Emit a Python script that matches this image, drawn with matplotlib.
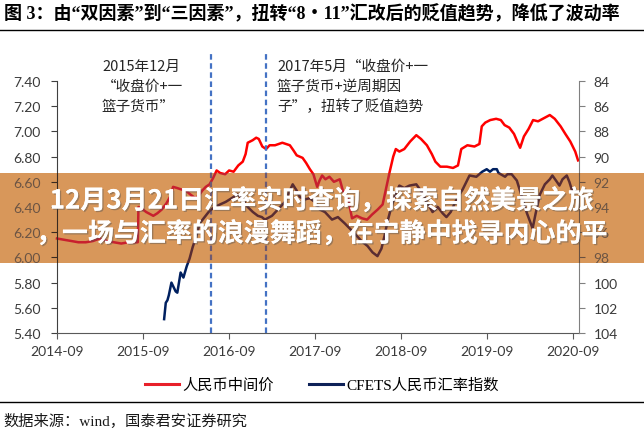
import numpy as np
import matplotlib.pyplot as plt
import matplotlib.dates as mdates
import matplotlib.patheffects as pe
from matplotlib.patches import Rectangle
from matplotlib.lines import Line2D
from matplotlib.font_manager import FontProperties
from matplotlib.transforms import Bbox, TransformedBbox

CJK = 'Noto Sans CJK SC'
SERIF_CJK = ['Liberation Serif', CJK]

# ---- data ----
cny_dates = ['2014-09-01', '2014-10-01', '2014-11-01', '2014-12-01', '2015-01-01', '2015-02-01',
             '2015-03-01', '2015-04-01', '2015-05-01', '2015-06-01', '2015-07-01', '2015-08-10',
             '2015-08-13', '2015-08-25', '2015-09-15', '2015-10-15', '2015-11-01', '2015-11-20',
             '2015-12-10', '2015-12-25', '2016-01-07', '2016-01-25', '2016-02-10', '2016-03-01',
             '2016-03-20', '2016-04-10', '2016-04-25', '2016-05-10', '2016-05-25', '2016-06-10',
             '2016-06-25', '2016-07-10', '2016-07-25', '2016-08-15', '2016-09-01', '2016-09-20',
             '2016-10-10', '2016-10-29', '2016-11-10', '2016-11-19', '2016-12-10', '2016-12-25',
             '2017-01-05', '2017-01-20', '2017-02-05', '2017-02-20', '2017-03-15', '2017-04-15',
             '2017-05-17', '2017-06-01', '2017-06-15', '2017-07-10', '2017-07-25', '2017-08-10',
             '2017-08-25', '2017-09-10', '2017-09-20', '2017-10-01', '2017-10-15', '2017-11-01',
             '2017-11-20', '2017-12-15', '2017-12-28', '2018-01-20', '2018-02-05', '2018-02-25',
             '2018-03-20', '2018-04-10', '2018-05-01', '2018-05-25', '2018-06-15', '2018-06-30',
             '2018-07-15', '2018-07-30', '2018-08-10', '2018-08-25', '2018-09-15', '2018-10-10',
             '2018-11-05', '2018-11-25', '2018-12-20', '2019-01-10', '2019-01-25', '2019-02-15',
             '2019-03-15', '2019-04-10', '2019-05-01', '2019-05-15', '2019-06-10', '2019-07-10',
             '2019-07-31', '2019-08-10', '2019-08-25', '2019-09-15', '2019-10-10', '2019-10-30',
             '2019-11-15', '2019-12-05', '2019-12-25', '2020-01-10', '2020-01-20', '2020-02-05',
             '2020-02-25', '2020-03-15', '2020-04-05', '2020-04-25', '2020-05-25', '2020-06-15',
             '2020-07-10', '2020-07-30', '2020-08-20', '2020-09-10', '2020-09-22']
cny_mid = [6.15, 6.14, 6.13, 6.12, 6.12, 6.13,
           6.15, 6.13, 6.12, 6.11, 6.12, 6.12,
           6.40, 6.39, 6.36, 6.33, 6.35, 6.38,
           6.43, 6.48, 6.56, 6.55, 6.54, 6.53,
           6.50, 6.47, 6.49, 6.53, 6.56, 6.58,
           6.63, 6.69, 6.67, 6.66, 6.69, 6.68,
           6.73, 6.76, 6.82, 6.91, 6.93, 6.95,
           6.94, 6.88, 6.86, 6.89, 6.89, 6.91,
           6.89, 6.85, 6.81, 6.79, 6.75, 6.70,
           6.66, 6.56, 6.61, 6.65, 6.62, 6.64,
           6.60, 6.62, 6.53, 6.46, 6.31, 6.33,
           6.31, 6.30, 6.34, 6.38, 6.42, 6.55,
           6.68, 6.80, 6.86, 6.84, 6.86, 6.92,
           6.97, 6.94, 6.89, 6.82, 6.76, 6.72,
           6.72, 6.71, 6.73, 6.86, 6.89, 6.88,
           6.90, 7.04, 7.07, 7.09, 7.10, 7.09,
           7.05, 7.03, 6.98, 6.91, 6.87, 6.96,
           7.02, 7.09, 7.08, 7.10, 7.13, 7.10,
           7.04, 6.98, 6.92, 6.84, 6.77]

cfets_dates = ['2015-11-30', '2015-12-07', '2015-12-14', '2015-12-20', '2015-12-31', '2016-01-18',
               '2016-01-25', '2016-02-08', '2016-02-20', '2016-03-05', '2016-03-17', '2016-03-30',
               '2016-04-15', '2016-04-29', '2016-05-20', '2016-06-10', '2016-07-03', '2016-07-24',
               '2016-08-17', '2016-09-12', '2016-10-07', '2016-10-29', '2016-11-19', '2016-12-11',
               '2017-01-01', '2017-01-18', '2017-01-31', '2017-03-02', '2017-03-27', '2017-04-26',
               '2017-05-17', '2017-05-29', '2017-06-15', '2017-06-28', '2017-07-19', '2017-08-09',
               '2017-08-31', '2017-09-21', '2017-10-13', '2017-11-12', '2017-12-07', '2018-01-05',
               '2018-01-26', '2018-02-16', '2018-03-17', '2018-04-12', '2018-05-03', '2018-05-24',
               '2018-06-10', '2018-06-23', '2018-07-05', '2018-07-22', '2018-08-08', '2018-08-25',
               '2018-09-15', '2018-10-07', '2018-11-05', '2018-11-28', '2018-12-19', '2019-01-13',
               '2019-02-04', '2019-02-25', '2019-03-13', '2019-03-31', '2019-04-25', '2019-05-21',
               '2019-06-19', '2019-07-18', '2019-08-12', '2019-08-31', '2019-09-14', '2019-09-27',
               '2019-10-13', '2019-10-20', '2019-11-17', '2019-11-27', '2019-12-15', '2020-01-06',
               '2020-01-31', '2020-02-18', '2020-03-03', '2020-03-13', '2020-03-26', '2020-04-13',
               '2020-05-04', '2020-05-25', '2020-06-05', '2020-06-24', '2020-07-05', '2020-07-18',
               '2020-08-05', '2020-08-16', '2020-08-26', '2020-09-15']
cfets_idx = [102.9, 101.6, 101.4, 101.0, 100.0, 100.7,
             100.8, 99.2, 99.6, 98.7, 98.1, 97.2,
             96.3, 95.3, 94.8, 94.3, 94.0, 93.8,
             93.6, 93.3, 93.0, 93.4, 94.0, 94.4,
             94.7, 94.8, 95.0, 94.7, 94.2, 93.6,
             92.7, 92.2, 92.7, 93.2, 93.4, 93.3,
             93.6, 94.2, 94.4, 95.0, 94.8, 95.3,
             95.7, 96.1, 96.7, 97.1, 97.6, 97.9,
             97.3, 96.3, 95.2, 94.0, 93.0, 92.3,
             92.5, 92.3, 92.2, 92.8, 93.6, 94.4,
             94.0, 94.5, 94.8, 94.4, 93.4, 92.6,
             91.5, 91.6, 91.2, 91.0, 91.2, 91.0,
             91.0, 91.3, 91.6, 91.4, 91.4, 91.9,
             93.4, 94.5, 95.2, 95.7, 94.5, 93.0,
             92.2, 91.8, 91.5, 92.0, 92.3, 91.8,
             91.5, 92.0, 92.6, 92.8]

policy_dates = ['2016-06-15', '2017-02-06']
left_ticks = [5.4, 5.6, 5.8, 6.0, 6.2, 6.4, 6.6, 6.8, 7.0, 7.2, 7.4]
right_ticks = [84, 86, 88, 90, 92, 94, 96, 98, 100, 102, 104]
band_left_ticks = [6.0, 6.2, 6.4, 6.6]
band_right_ticks = [92, 94, 96, 98]

title = '图 3：由“双因素”到“三因素”，扭转“8・11”汇改后的贬值趋势，降低了波动率'
note1 = ['2015年12月', '“收盘价+一', '篮子货币”']
note2 = ['2017年5月“收盘价+一', '篮子货币+逆周期因', '子”，扭转了贬值趋势']
labels = ['人民币中间价', 'CFETS人民币汇率指数']
banner = ['12月3月21日汇率实时查询，探索自然美景之旅', '，一场与汇率的浪漫舞蹈，在宁静中找寻内心的平']
source = '数据来源：wind，国泰君安证券研究'

cny_x = np.array(cny_dates, dtype='datetime64[D]')
cfets_x = np.array(cfets_dates, dtype='datetime64[D]')
policy_x = np.array(policy_dates, dtype='datetime64[D]')
x0, x1 = np.datetime64('2014-09-01'), np.datetime64('2020-09-26')

W, H = 644, 439
def fx(px):
    return px / W
def fy(py):
    return 1 - py / H

fig = plt.figure(figsize=(6.44, 4.39), dpi=100)
pos = [fx(57), fy(334), (579 - 57) / W, (334 - 82) / H]

# ---- base chart ----
ax = fig.add_axes(pos)
axr = ax.twinx()
ax.plot(cny_x, cny_mid, color='#FF0000', lw=1.8)
axr.plot(cfets_x, cfets_idx, color='#002060', lw=1.8)
for d in policy_x:
    ax.axvline(d, ymin=0, ymax=1.115, color='#4472C4', lw=1.6, ls=(0, (2.5, 1.6)), clip_on=False)

ax.set_xlim(x0, x1)
ax.set_ylim(5.4, 7.4)
axr.set_ylim(104, 84)
ax.set_yticks(left_ticks)
ax.set_yticklabels(['%.2f' % v for v in left_ticks])
axr.set_yticks(right_ticks)
ax.xaxis.set_major_locator(mdates.YearLocator(1, month=9, day=1))
ax.xaxis.set_major_formatter(mdates.DateFormatter('%Y-%m'))

for s in ['top', 'right']:
    ax.spines[s].set_visible(False)
for s in ['top', 'left', 'bottom']:
    axr.spines[s].set_visible(False)
ax.spines['left'].set_color('#404040')
ax.spines['bottom'].set_color('#595959')
axr.spines['right'].set_color('#808080')
ax.tick_params(axis='y', length=4, width=0.8, pad=8, color='#404040', labelcolor='#3a3a3a', labelsize=10)
ax.tick_params(axis='x', length=4.5, width=0.8, pad=4, color='#595959', labelcolor='#3a3a3a', labelsize=10)
axr.tick_params(axis='y', length=4.5, width=0.8, pad=6, color='#808080', labelcolor='#3a3a3a', labelsize=10)
for t in ax.get_xticklabels() + ax.get_yticklabels() + axr.get_yticklabels():
    t.set_fontfamily('Lato')

# ---- semi-transparent banner: opaque patch, lines re-drawn darker on top ----
fig.add_artist(Rectangle((0, fy(264)), 1, (264 - 174) / H, transform=fig.transFigure,
                         facecolor='#D8975A', edgecolor='none', zorder=3))
band = TransformedBbox(Bbox([[0, fy(264)], [1, fy(174)]]), fig.transFigure)

ox = fig.add_axes(pos, zorder=4)
oxr = ox.twinx()
oxr.set_zorder(5)
for a in (ox, oxr):
    a.patch.set_visible(False)
clipped = []
clipped += ox.plot(cny_x, cny_mid, color='#C8202E', lw=1.8)
clipped += oxr.plot(cfets_x, cfets_idx, color='#5A2D32', lw=1.8)
for d in policy_x:
    clipped.append(ox.axvline(d, color='#6E5A72', lw=1.6, ls=(0, (2.5, 1.6))))
ox.set_xlim(x0, x1)
ox.set_ylim(5.4, 7.4)
oxr.set_ylim(104, 84)
ox.set_xticks([])
ox.set_yticks(band_left_ticks)
ox.set_yticklabels(['%.2f' % v for v in band_left_ticks])
oxr.set_yticks(band_right_ticks)
for s in ['top', 'right', 'bottom']:
    ox.spines[s].set_visible(False)
for s in ['top', 'left', 'bottom']:
    oxr.spines[s].set_visible(False)
ox.spines['left'].set_color('#3a2a20')
oxr.spines['right'].set_color('#6a5040')
clipped += [ox.spines['left'], oxr.spines['right']]
for a in clipped:
    a.set_clip_on(True)
    a.set_clip_box(band)
ox.tick_params(axis='y', length=4, width=0.8, pad=8, color='#3a2a20', labelcolor='#6b5444', labelsize=10)
oxr.tick_params(axis='y', length=4.5, width=0.8, pad=6, color='#6a5040', labelcolor='#6b5444', labelsize=10)
for t in ox.get_yticklabels() + oxr.get_yticklabels():
    t.set_fontfamily('Lato')

shadow = [pe.withSimplePatchShadow(offset=(1, -1), shadow_rgbFace='#555555', alpha=0.45), pe.Normal()]
fig.text(0.5, fy(202), banner[0], ha='center', va='center', color='white', fontsize=18.7,
         fontweight='bold', family=CJK, zorder=6, path_effects=shadow)
fig.text(0.5, fy(235), banner[1], ha='center', va='center', color='white', fontsize=18.7,
         fontweight='bold', family=CJK, zorder=6, path_effects=shadow)

# ---- title, notes, legend, source ----
fig.text(fx(4), fy(14), title, ha='left', va='center', fontsize=13, fontweight='bold',
         family=SERIF_CJK, color='black')
fig.add_artist(Line2D([0, 1], [fy(31), fy(31)], color='black', lw=1.0, transform=fig.transFigure))
for i, s in enumerate(note1):
    fig.text(fx(102), fy(67 + 20 * i), s, ha='left', va='center', fontsize=10.5, family=CJK, color='#262626')
for i, s in enumerate(note2):
    fig.text(fx(277), fy(67 + 20 * i), s, ha='left', va='center', fontsize=10.5, family=CJK, color='#262626')

handles = [Line2D([], [], color='#E8202A', lw=2.2), Line2D([], [], color='#0E2258', lw=2.2)]
fig.legend(handles, labels, loc='center', bbox_to_anchor=(0.5, fy(386)), ncol=2, frameon=False,
           handlelength=2.2, handletextpad=0.25, columnspacing=2.3,
           prop=FontProperties(family=SERIF_CJK, size=11))

fig.add_artist(Line2D([0, 1], [fy(403), fy(403)], color='black', lw=1.0, transform=fig.transFigure))
fig.text(fx(3), fy(421), source, ha='left', va='center', fontsize=11, family=SERIF_CJK, color='#1a1a1a')

fig.savefig('out.png', dpi=100)
